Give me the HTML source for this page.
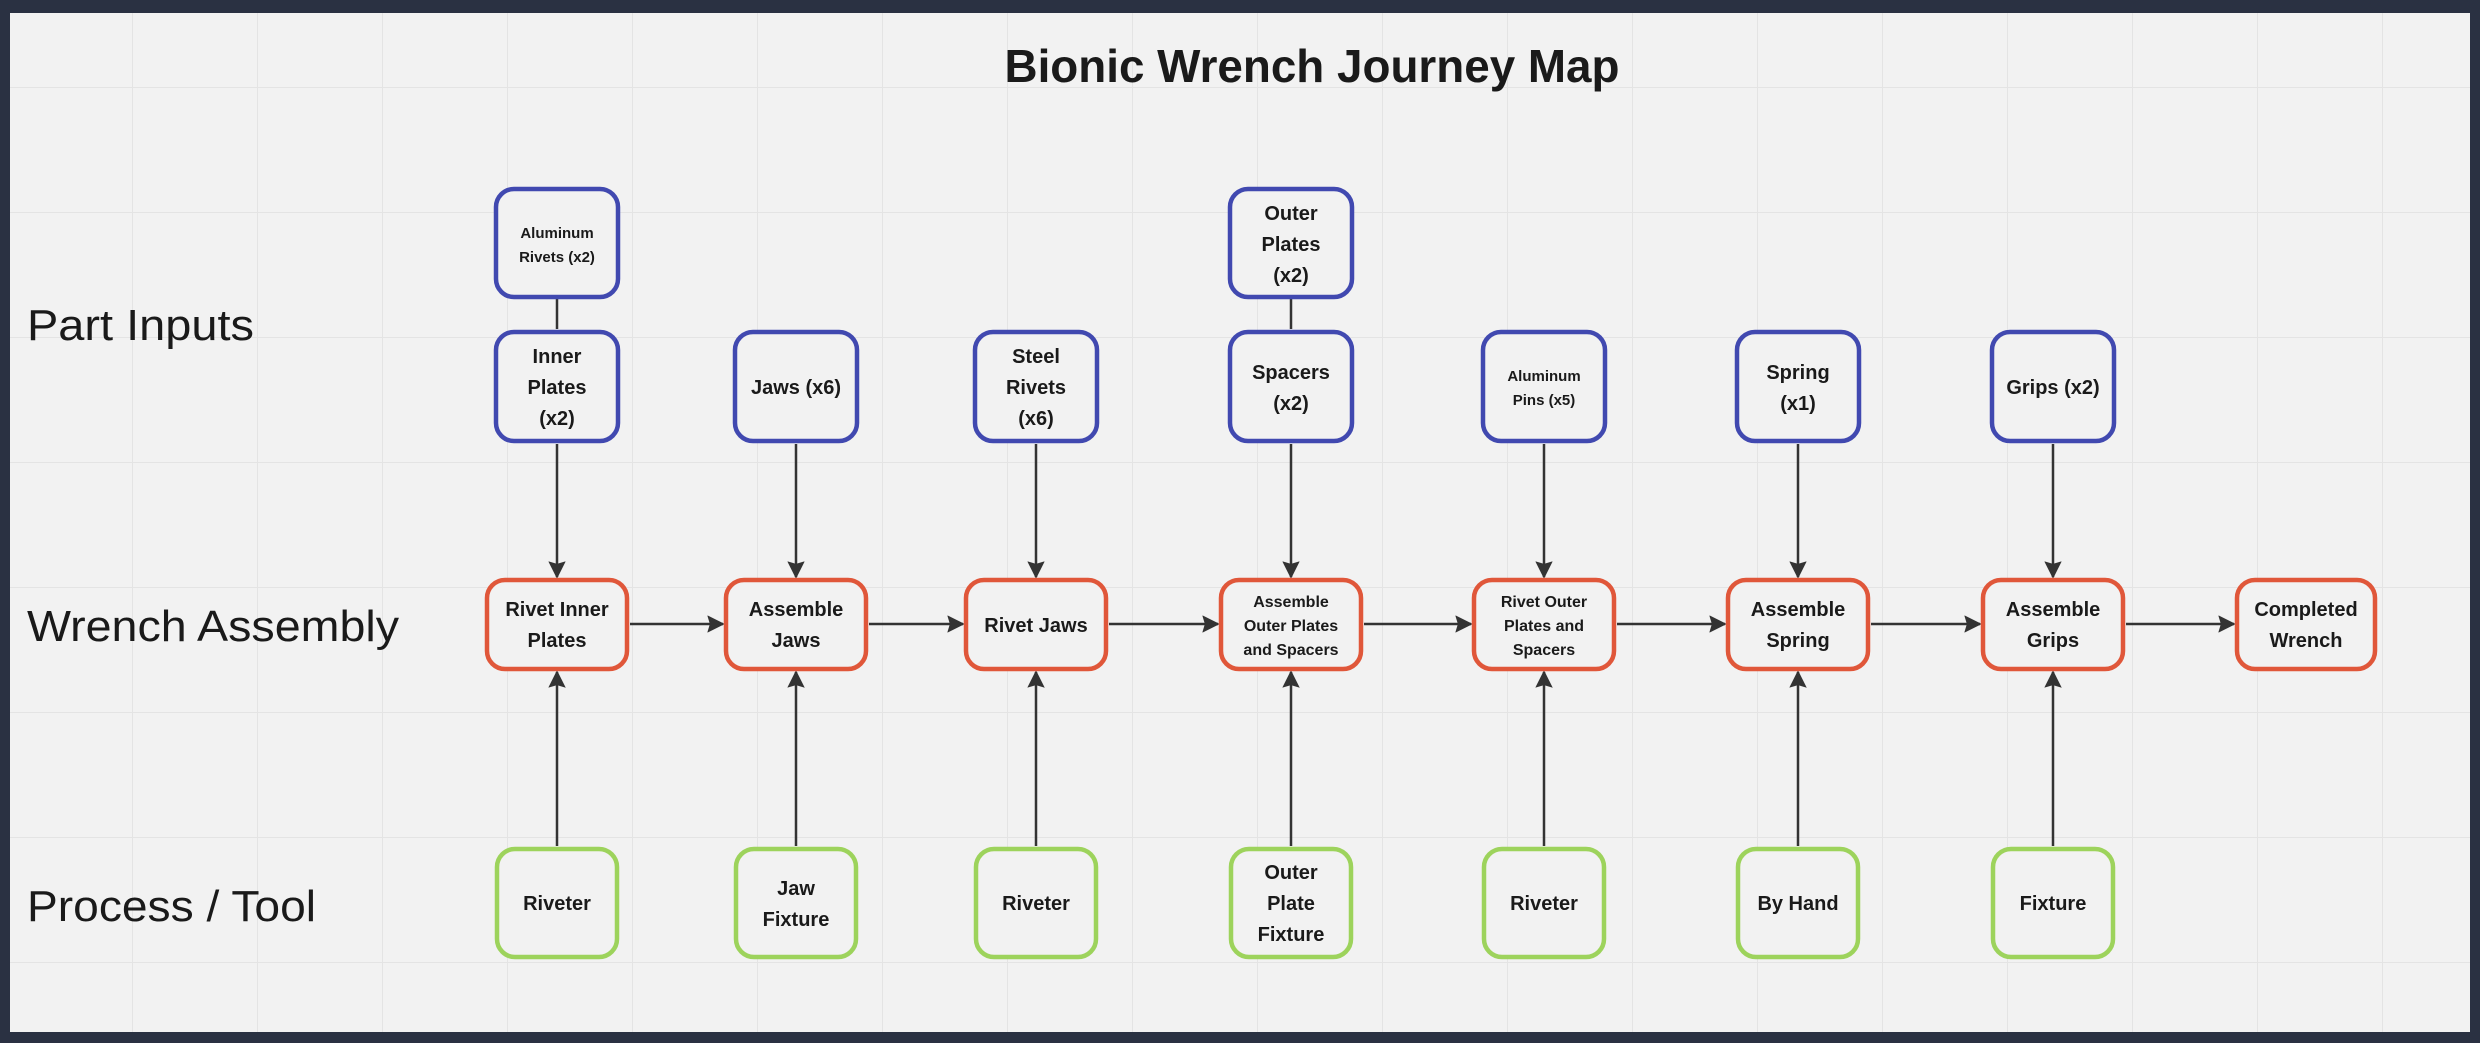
<!DOCTYPE html>
<html><head><meta charset="utf-8"><style>
html,body{margin:0;padding:0;background:#2a3142;}
svg{display:block}
</style></head><body>
<svg width="2480" height="1043" viewBox="0 0 2480 1043" xmlns="http://www.w3.org/2000/svg">
<defs>
<pattern id="g" x="7" y="-38" width="125" height="125" patternUnits="userSpaceOnUse">
<path d="M0 0V125M0 0H125" stroke="#e4e4e4" stroke-width="2" fill="none"/>
</pattern>
<marker id="a" viewBox="0 0 10 10" refX="9" refY="5" markerWidth="7" markerHeight="7" orient="auto" markerUnits="strokeWidth">
<path d="M0 0L10 5L0 10L1.5 5Z" fill="#333"/>
</marker>
</defs>
<rect x="0" y="0" width="2480" height="1043" fill="#2a3142"/>
<rect x="10" y="13" width="2460" height="1019" fill="#f2f2f2"/>
<rect x="10" y="13" width="2460" height="1019" fill="url(#g)"/>

<g font-family="Liberation Sans, sans-serif" fill="#1a1a1a">
<text x="1312" y="82" font-size="46" font-weight="bold" text-anchor="middle" textLength="615" lengthAdjust="spacingAndGlyphs">Bionic Wrench Journey Map</text>
<text x="27" y="340" font-size="44" textLength="227" lengthAdjust="spacingAndGlyphs">Part Inputs</text>
<text x="27" y="641" font-size="44" textLength="372" lengthAdjust="spacingAndGlyphs">Wrench Assembly</text>
<text x="27" y="921" font-size="44" textLength="289" lengthAdjust="spacingAndGlyphs">Process / Tool</text>
</g>

<g stroke="#333" stroke-width="2.5" fill="none">
<line x1="557" y1="299" x2="557" y2="329"/>
<line x1="1291" y1="299" x2="1291" y2="329"/>
<g marker-end="url(#a)">
<line x1="557" y1="444" x2="557" y2="577"/>
<line x1="796" y1="444" x2="796" y2="577"/>
<line x1="1036" y1="444" x2="1036" y2="577"/>
<line x1="1291" y1="444" x2="1291" y2="577"/>
<line x1="1544" y1="444" x2="1544" y2="577"/>
<line x1="1798" y1="444" x2="1798" y2="577"/>
<line x1="2053" y1="444" x2="2053" y2="577"/>
<line x1="557" y1="846" x2="557" y2="672"/>
<line x1="796" y1="846" x2="796" y2="672"/>
<line x1="1036" y1="846" x2="1036" y2="672"/>
<line x1="1291" y1="846" x2="1291" y2="672"/>
<line x1="1544" y1="846" x2="1544" y2="672"/>
<line x1="1798" y1="846" x2="1798" y2="672"/>
<line x1="2053" y1="846" x2="2053" y2="672"/>
<line x1="630" y1="624" x2="723" y2="624"/>
<line x1="869" y1="624" x2="963" y2="624"/>
<line x1="1109" y1="624" x2="1218" y2="624"/>
<line x1="1364" y1="624" x2="1471" y2="624"/>
<line x1="1617" y1="624" x2="1725" y2="624"/>
<line x1="1871" y1="624" x2="1980" y2="624"/>
<line x1="2126" y1="624" x2="2234" y2="624"/>
</g>
</g>

<g fill="#f2f2f2" stroke="#4149b0" stroke-width="4.5">
<rect x="496" y="189" width="122" height="108" rx="18"/>
<rect x="1230" y="189" width="122" height="108" rx="18"/>
<rect x="496" y="332" width="122" height="109" rx="18"/>
<rect x="735" y="332" width="122" height="109" rx="18"/>
<rect x="975" y="332" width="122" height="109" rx="18"/>
<rect x="1230" y="332" width="122" height="109" rx="18"/>
<rect x="1483" y="332" width="122" height="109" rx="18"/>
<rect x="1737" y="332" width="122" height="109" rx="18"/>
<rect x="1992" y="332" width="122" height="109" rx="18"/>
</g>
<g fill="#f2f2f2" stroke="#e0573a" stroke-width="4.5">
<rect x="487" y="580" width="140" height="89" rx="18"/>
<rect x="726" y="580" width="140" height="89" rx="18"/>
<rect x="966" y="580" width="140" height="89" rx="18"/>
<rect x="1221" y="580" width="140" height="89" rx="18"/>
<rect x="1474" y="580" width="140" height="89" rx="18"/>
<rect x="1728" y="580" width="140" height="89" rx="18"/>
<rect x="1983" y="580" width="140" height="89" rx="18"/>
<rect x="2237" y="580" width="138" height="89" rx="18"/>
</g>
<g fill="#f2f2f2" stroke="#9dd35c" stroke-width="4.5">
<rect x="497" y="849" width="120" height="108" rx="18"/>
<rect x="736" y="849" width="120" height="108" rx="18"/>
<rect x="976" y="849" width="120" height="108" rx="18"/>
<rect x="1231" y="849" width="120" height="108" rx="18"/>
<rect x="1484" y="849" width="120" height="108" rx="18"/>
<rect x="1738" y="849" width="120" height="108" rx="18"/>
<rect x="1993" y="849" width="120" height="108" rx="18"/>
</g>

<g font-family="Liberation Sans, sans-serif" font-weight="bold" fill="#1a1a1a" text-anchor="middle" font-size="20">
<g font-size="15">
<text x="557" y="238">Aluminum</text><text x="557" y="262">Rivets (x2)</text>
<text x="1544" y="381">Aluminum</text><text x="1544" y="405">Pins (x5)</text>
</g>
<text x="1291" y="220">Outer</text><text x="1291" y="251">Plates</text><text x="1291" y="282">(x2)</text>
<text x="557" y="363">Inner</text><text x="557" y="394">Plates</text><text x="557" y="425">(x2)</text>
<text x="796" y="394">Jaws (x6)</text>
<text x="1036" y="363">Steel</text><text x="1036" y="394">Rivets</text><text x="1036" y="425">(x6)</text>
<text x="1291" y="379">Spacers</text><text x="1291" y="410">(x2)</text>
<text x="1798" y="379">Spring</text><text x="1798" y="410">(x1)</text>
<text x="2053" y="394">Grips (x2)</text>

<text x="557" y="616">Rivet Inner</text><text x="557" y="647">Plates</text>
<text x="796" y="616">Assemble</text><text x="796" y="647">Jaws</text>
<text x="1036" y="632">Rivet Jaws</text>
<g font-size="16">
<text x="1291" y="607">Assemble</text><text x="1291" y="631">Outer Plates</text><text x="1291" y="655">and Spacers</text>
<text x="1544" y="607">Rivet Outer</text><text x="1544" y="631">Plates and</text><text x="1544" y="655">Spacers</text>
</g>
<text x="1798" y="616">Assemble</text><text x="1798" y="647">Spring</text>
<text x="2053" y="616">Assemble</text><text x="2053" y="647">Grips</text>
<text x="2306" y="616">Completed</text><text x="2306" y="647">Wrench</text>

<text x="557" y="910">Riveter</text>
<text x="796" y="895">Jaw</text><text x="796" y="926">Fixture</text>
<text x="1036" y="910">Riveter</text>
<text x="1291" y="879">Outer</text><text x="1291" y="910">Plate</text><text x="1291" y="941">Fixture</text>
<text x="1544" y="910">Riveter</text>
<text x="1798" y="910">By Hand</text>
<text x="2053" y="910">Fixture</text>
</g>
</svg>
</body></html>
